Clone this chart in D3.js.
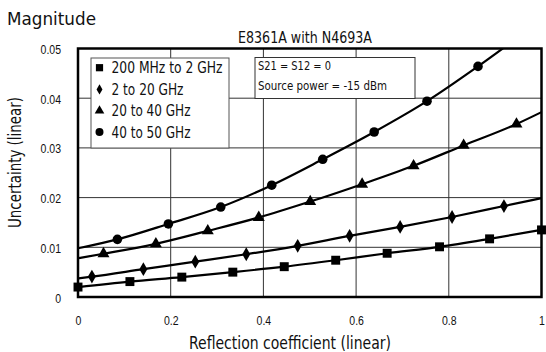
<!DOCTYPE html>
<html><head><meta charset="utf-8">
<script src="https://cdn.jsdelivr.net/npm/d3@7"></script>
<style>
html,body{margin:0;padding:0;background:#fff;}
svg{display:block;font-family:"DejaVu Sans Condensed","Liberation Sans Narrow","Arial Narrow",sans-serif;}
</style></head>
<body><svg id="c" width="546" height="352"></svg>
<script>
const xTicks = [0, 0.2, 0.4, 0.6, 0.8, 1];
const xTickLabels = ["0", "0.2", "0.4", "0.6", "0.8", "1"];
const yTicks = [0, 0.01, 0.02, 0.03, 0.04, 0.05];
const yTickLabels = ["0", "0.01", "0.02", "0.03", "0.04", "0.05"];
const seriesNames = ["200 MHz to 2 GHz", "2 to 20 GHz", "20 to 40 GHz", "40 to 50 GHz"];
const seriesSymbols = ["square", "diamond", "triangle", "circle"];

// marker positions
const squareX = [0, 0.112, 0.224, 0.334, 0.445, 0.556, 0.667, 0.780, 0.888, 1.0];
const squareY = [0.0020, 0.0031, 0.0040, 0.0050, 0.0061, 0.0074, 0.0088, 0.0101, 0.0117, 0.0135];
const diamondX = [0.030, 0.141, 0.253, 0.363, 0.474, 0.586, 0.695, 0.807, 0.919];
const diamondY = [0.0041, 0.0056, 0.0071, 0.0086, 0.0103, 0.0123, 0.0141, 0.0161, 0.0183];
const triangleX = [0.055, 0.168, 0.280, 0.390, 0.501, 0.613, 0.724, 0.832, 0.946];
const triangleY = [0.0087, 0.0107, 0.0133, 0.0160, 0.0192, 0.0227, 0.0264, 0.0305, 0.0348];
const circleX = [0.085, 0.195, 0.308, 0.418, 0.528, 0.639, 0.753, 0.863];
const circleY = [0.0116, 0.0147, 0.0181, 0.0225, 0.0277, 0.0332, 0.0394, 0.0464];
// curve end values at reflection coefficient 0 and 1
const lineStartY = [0.0020, 0.00375, 0.0078, 0.0098];
const lineEndY = [0.0135, 0.0199, 0.0372, 0.0558];

const title = "E8361A with N4693A";
const noteLines = ["S21 = S12 = 0", "Source power = -15 dBm"];

const svg = d3.select("#c");
const L = 78, R = 541.5, T = 48.5, B = 297;
const x = d3.scaleLinear().domain([0, 1]).range([L, R]);
const y = d3.scaleLinear().domain([0, 0.05]).range([B, T]);

function fit(sel, w) { sel.attr("textLength", w).attr("lengthAdjust", "spacingAndGlyphs"); return sel; }
function squeeze(sel, f) {
  sel.each(function () { const n = this.getComputedTextLength(); d3.select(this).attr("textLength", n * f).attr("lengthAdjust", "spacingAndGlyphs"); });
  return sel;
}

// grid
const g = svg.append("g");
g.selectAll("line.gx").data(xTicks.slice(1, -1)).join("line")
  .attr("x1", d => x(d)).attr("x2", d => x(d)).attr("y1", T).attr("y2", B)
  .attr("stroke", "#333").attr("stroke-width", 1);
g.selectAll("line.gy").data(yTicks.slice(1, -1)).join("line")
  .attr("y1", d => y(d)).attr("y2", d => y(d)).attr("x1", L).attr("x2", R)
  .attr("stroke", "#333").attr("stroke-width", 1);

// axes tick labels
const xAxis = d3.axisBottom(x).tickValues(xTicks).tickFormat((d, i) => xTickLabels[i]).tickSize(0).tickPadding(0);
const ax = svg.append("g").attr("transform", `translate(0,${B})`).call(xAxis);
ax.select(".domain").remove();
ax.selectAll("text").attr("font-size", 12.5).attr("fill", "#111").style("font-family", "inherit")
  .attr("dy", null).attr("y", 28);
squeeze(ax.selectAll("text"), 0.84);
const yAxis = d3.axisLeft(y).tickValues(yTicks).tickFormat((d, i) => yTickLabels[i]).tickSize(0).tickPadding(17);
const ay = svg.append("g").attr("transform", `translate(${L},0)`).call(yAxis);
ay.select(".domain").remove();
ay.selectAll("text").attr("font-size", 12.5).attr("fill", "#111").style("font-family", "inherit")
  .attr("dy", null).attr("y", 5);
squeeze(ay.selectAll("text"), 0.84);

// legend box
const lg = svg.append("g");
lg.append("rect").attr("x", 91).attr("y", 58).attr("width", 138).attr("height", 90)
  .attr("fill", "#fff").attr("stroke", "#555").attr("stroke-width", 1);
const legY = [73.3, 95, 116.3, 137.7];
const legW = [111, 72, 79, 79];
const symMap = {square: d3.symbolSquare, diamond: d3.symbolDiamond, triangle: d3.symbolTriangle, circle: d3.symbolCircle};
const legSize = {square: 52, diamond: 30, triangle: 40, circle: 50};
seriesNames.forEach((n, i) => {
  lg.append("path").attr("d", d3.symbol(symMap[seriesSymbols[i]], legSize[seriesSymbols[i]])())
    .attr("transform", `translate(99.5,${legY[i] - 5.6})`).attr("fill", "#000");
  fit(lg.append("text").attr("x", 111.5).attr("y", legY[i]).attr("font-size", 15).attr("fill", "#111").text(n), legW[i]);
});

// note box
const nb = svg.append("g");
nb.append("rect").attr("x", 255).attr("y", 57.5).attr("width", 160).attr("height", 41)
  .attr("fill", "#fff").attr("stroke", "#333").attr("stroke-width", 1);
fit(nb.append("text").attr("x", 258).attr("y", 69.5).attr("font-size", 11.5).attr("fill", "#111").text(noteLines[0]), 73);
fit(nb.append("text").attr("x", 258).attr("y", 90).attr("font-size", 11.5).attr("fill", "#111").text(noteLines[1]), 129);

// clip
svg.append("clipPath").attr("id", "clip").append("rect").attr("x", L).attr("y", T).attr("width", R - L).attr("height", B - T);

const seriesX = [squareX, diamondX, triangleX, circleX];
const seriesY = [squareY, diamondY, triangleY, circleY];
const markSize = {square: 80, diamond: 55, triangle: 62, circle: 72};
const plot = svg.append("g").attr("clip-path", "url(#clip)");
const line = d3.line().x(d => x(d[0])).y(d => y(d[1])).curve(d3.curveMonotoneX);
seriesX.forEach((xs, i) => {
  let pts = xs.map((v, j) => [v, seriesY[i][j]]);
  if (xs[0] > 0) pts.unshift([0, lineStartY[i]]);
  if (xs[xs.length - 1] < 1) pts.push([1, lineEndY[i]]);
  plot.append("path").attr("d", line(pts)).attr("fill", "none").attr("stroke", "#000").attr("stroke-width", 2.2);
});
seriesX.forEach((xs, i) => {
  const s = seriesSymbols[i];
  svg.append("g").selectAll("path").data(xs.map((v, j) => [v, seriesY[i][j]])).join("path")
    .attr("d", d3.symbol(symMap[s], markSize[s])())
    .attr("transform", d => `translate(${x(d[0])},${y(d[1])})`).attr("fill", "#000");
});

// frame
svg.append("rect").attr("x", L).attr("y", T).attr("width", R - L).attr("height", B - T)
  .attr("fill", "none").attr("stroke", "#000").attr("stroke-width", 2.5);

// texts
fit(svg.append("text").attr("x", 7).attr("y", 25).attr("font-size", 18).attr("fill", "#111").text("Magnitude"), 89);
fit(svg.append("text").attr("x", 238).attr("y", 43).attr("font-size", 15).attr("fill", "#111").text(title), 134);
fit(svg.append("text").attr("x", 189).attr("y", 349).attr("font-size", 17.5).attr("fill", "#111").text("Reflection coefficient (linear)"), 202);
fit(svg.append("text").attr("transform", "translate(20.5,228) rotate(-90)").attr("font-size", 17).attr("fill", "#111").text("Uncertainty (linear)"), 131);
</script></body></html>
